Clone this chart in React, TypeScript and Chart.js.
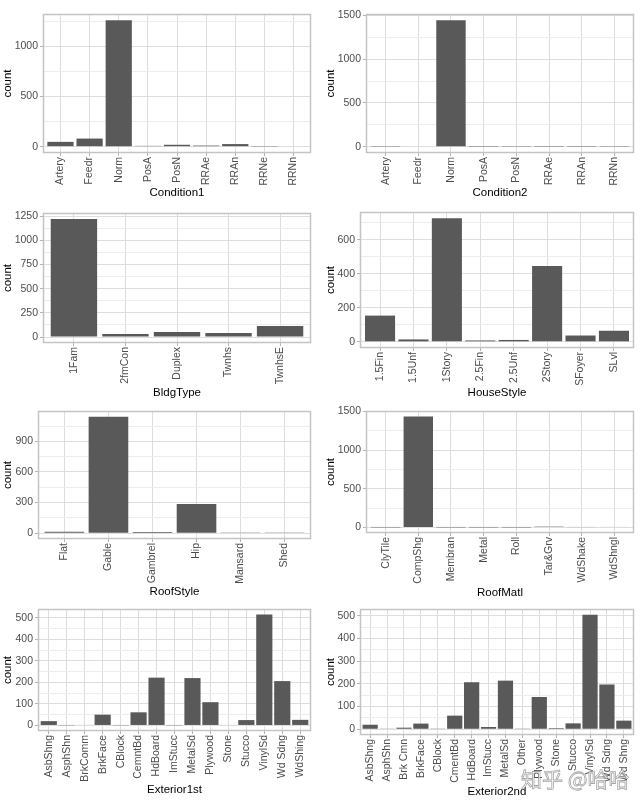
import React, { useEffect, useRef } from "react";
import { Chart, registerables } from "chart.js";

Chart.register(...registerables);
Chart.defaults.font.family = "'Liberation Sans', Arial, sans-serif";

// ---------- data ----------
const condition1Labels = ["Artery", "Feedr", "Norm", "PosA", "PosN", "RRAe", "RRAn", "RRNe", "RRNn"];
const condition1Counts = [48, 81, 1260, 8, 19, 11, 26, 2, 5];

const condition2Labels = ["Artery", "Feedr", "Norm", "PosA", "PosN", "RRAe", "RRAn", "RRNn"];
const condition2Counts = [2, 6, 1445, 1, 2, 1, 1, 2];

const bldgTypeLabels = ["1Fam", "2fmCon", "Duplex", "Twnhs", "TwnhsE"];
const bldgTypeCounts = [1220, 31, 52, 43, 114];

const houseStyleLabels = ["1.5Fin", "1.5Unf", "1Story", "2.5Fin", "2.5Unf", "2Story", "SFoyer", "SLvl"];
const houseStyleCounts = [154, 14, 726, 8, 11, 445, 37, 65];

const roofStyleLabels = ["Flat", "Gable", "Gambrel", "Hip", "Mansard", "Shed"];
const roofStyleCounts = [13, 1141, 11, 286, 7, 2];

const roofMatlLabels = ["ClyTile", "CompShg", "Membran", "Metal", "Roll", "Tar&Grv", "WdShake", "WdShngl"];
const roofMatlCounts = [1, 1434, 1, 1, 1, 11, 5, 6];

const exterior1stLabels = ["AsbShng", "AsphShn", "BrkComm", "BrkFace", "CBlock", "CemntBd", "HdBoard", "ImStucc", "MetalSd", "Plywood", "Stone", "Stucco", "VinylSd", "Wd Sdng", "WdShing"];
const exterior1stCounts = [20, 1, 2, 50, 1, 61, 222, 1, 220, 108, 2, 25, 515, 206, 26];

const exterior2ndLabels = ["AsbShng", "AsphShn", "Brk Cmn", "BrkFace", "CBlock", "CmentBd", "HdBoard", "ImStucc", "MetalSd", "Other", "Plywood", "Stone", "Stucco", "VinylSd", "Wd Sdng", "Wd Shng"];
const exterior2ndCounts = [20, 3, 7, 25, 1, 60, 207, 10, 214, 1, 142, 5, 26, 504, 197, 38];

// major tick steps per panel
const condition1Step = 500;
const condition2Step = 500;
const bldgTypeStep = 250;
const houseStyleStep = 200;
const roofStyleStep = 300;
const roofMatlStep = 500;
const exterior1stStep = 100;
const exterior2ndStep = 100;

const watermarkText = "知乎 @哈哈";

// ---------- styles ----------
const BAR = "#595959";
const GRID_MAJOR = "#dedede";
const GRID_MINOR = "#ededed";
const AXIS_GREY = "#b3b3b3";
const BORDER_GREY = "#c4c4c4";
const TICK_TEXT = "#4d4d4d";
const TICK_FONT = { family: "'Liberation Sans', Arial, sans-serif", size: 10.5 };
const TITLE_FONT = { family: "'Liberation Sans', Arial, sans-serif", size: 11.5 };

type PanelCfg = {
  labels: string[];
  values: number[];
  title: string;
  step: number;
  box: [number, number, number, number]; // canvas x, y, w, h
  plot: [number, number, number, number]; // left, top, right, bottom (absolute)
  titleY: number; // center of x title (absolute)
};

const panels: PanelCfg[] = [
  { labels: condition1Labels, values: condition1Counts, title: "Condition1", step: condition1Step, box: [0, 0, 320, 200], plot: [43, 14, 311, 153], titleY: 193 },
  { labels: condition2Labels, values: condition2Counts, title: "Condition2", step: condition2Step, box: [323, 0, 317, 200], plot: [366, 14, 634, 153], titleY: 193 },
  { labels: bldgTypeLabels, values: bldgTypeCounts, title: "BldgType", step: bldgTypeStep, box: [0, 200, 320, 200], plot: [43, 213, 311, 343], titleY: 393 },
  { labels: houseStyleLabels, values: houseStyleCounts, title: "HouseStyle", step: houseStyleStep, box: [323, 200, 317, 200], plot: [360, 212, 634, 348], titleY: 393 },
  { labels: roofStyleLabels, values: roofStyleCounts, title: "RoofStyle", step: roofStyleStep, box: [0, 400, 320, 200], plot: [38, 411, 311, 539], titleY: 592 },
  { labels: roofMatlLabels, values: roofMatlCounts, title: "RoofMatl", step: roofMatlStep, box: [323, 400, 317, 200], plot: [366, 411, 634, 533], titleY: 592.5 },
  { labels: exterior1stLabels, values: exterior1stCounts, title: "Exterior1st", step: exterior1stStep, box: [0, 600, 320, 202], plot: [38, 609, 311, 731], titleY: 790 },
  { labels: exterior2ndLabels, values: exterior2ndCounts, title: "Exterior2nd", step: exterior2ndStep, box: [323, 600, 317, 202], plot: [360, 609, 634, 735], titleY: 791.5 },
];

const borderPlugin = {
  id: "panelBorder",
  afterDraw(chart: any) {
    const { ctx, chartArea } = chart;
    const { left, top, right, bottom } = chartArea;
    ctx.save();
    ctx.strokeStyle = BORDER_GREY;
    ctx.lineWidth = 1.5;
    ctx.strokeRect(Math.round(left) + 0.5, Math.round(top) + 0.5, Math.round(right - left) - 1, Math.round(bottom - top) - 1);
    ctx.restore();
  },
};

function Panel({ cfg }: { cfg: PanelCfg }) {
  const ref = useRef<HTMLCanvasElement>(null);
  useEffect(() => {
    const [cx, cy, cw, ch] = cfg.box;
    const [pl, pt, pr, pb] = cfg.plot;
    const maxV = Math.max(...cfg.values);
    const yMin = -0.05 * maxV;
    const yMax = 1.05 * maxV;
    const minor = cfg.step / 2;
    const yTicks: number[] = [];
    for (let v = 0; v <= yMax + 1e-9; v += minor) yTicks.push(v);
    const n = cfg.labels.length;
    const isMajor = (v: number) => Math.abs(v / cfg.step - Math.round(v / cfg.step)) < 1e-6;
    const titleHalf = (TITLE_FONT.size * 1.2) / 2;

    const chart = new Chart(ref.current as HTMLCanvasElement, {
      type: "bar",
      data: {
        datasets: [
          {
            data: cfg.values.map((v, i) => ({ x: i, y: v })),
            backgroundColor: BAR,
            borderWidth: 0,
            inflateAmount: 0,
            categoryPercentage: 0.9,
            barPercentage: 1,
          } as any,
        ],
      },
      options: {
        responsive: false,
        animation: false,
        events: [],
        layout: { padding: { left: 0, top: pt - cy, right: cx + cw - pr, bottom: 0 } },
        plugins: { legend: { display: false }, tooltip: { enabled: false } },
        scales: {
          x: {
            type: "linear",
            min: -0.6,
            max: n - 0.4,
            offset: false,
            afterBuildTicks: (s: any) => {
              s.ticks = cfg.labels.map((_, i) => ({ value: i }));
            },
            afterFit: (s: any) => {
              s.height = cy + ch - pb;
            },
            ticks: {
              autoSkip: false,
              minRotation: 90,
              maxRotation: 90,
              padding: 1,
              color: TICK_TEXT,
              font: TICK_FONT,
              callback: (v: any) => cfg.labels[Math.round(Number(v))],
            },
            grid: { offset: false, color: GRID_MAJOR, lineWidth: 1, tickLength: 3, tickColor: AXIS_GREY, drawTicks: true },
            border: { display: false },
            title: {
              display: true,
              text: cfg.title,
              color: "#000",
              font: TITLE_FONT,
              padding: { top: 0, bottom: Math.max(0, cy + ch - cfg.titleY - titleHalf) },
            },
          },
          y: {
            type: "linear",
            min: yMin,
            max: yMax,
            afterBuildTicks: (s: any) => {
              s.ticks = yTicks.map((v) => ({ value: v }));
            },
            afterFit: (s: any) => {
              s.width = pl - cx;
            },
            ticks: {
              autoSkip: false,
              padding: 2,
              color: TICK_TEXT,
              font: TICK_FONT,
              callback: (v: any) => (isMajor(Number(v)) ? String(Math.round(Number(v))) : ""),
            },
            grid: {
              color: (c: any) => (c.tick && isMajor(c.tick.value) ? GRID_MAJOR : GRID_MINOR),
              tickColor: (c: any) => (c.tick && isMajor(c.tick.value) ? AXIS_GREY : "rgba(0,0,0,0)"),
              lineWidth: 1,
              tickLength: 3,
              drawTicks: true,
            },
            border: { display: false },
            title: {
              display: true,
              text: "count",
              color: "#000",
              font: TITLE_FONT,
              padding: { top: 1, bottom: 0 },
            },
          },
        },
      } as any,
      plugins: [borderPlugin],
    });
    return () => chart.destroy();
  }, [cfg]);

  const [cx, cy, cw, ch] = cfg.box;
  return (
    <canvas
      ref={ref}
      width={cw}
      height={ch}
      style={{ position: "absolute", left: cx, top: cy, width: cw, height: ch }}
    />
  );
}

export default function App() {
  return (
    <div style={{ position: "absolute", left: 0, top: 0, width: 640, height: 802, background: "#fff", overflow: "hidden" }}>
      {panels.map((p) => (
        <Panel key={p.title} cfg={p} />
      ))}
      <div
        style={{
          position: "absolute",
          left: 521,
          top: 764,
          fontFamily: "'Noto Sans CJK SC', sans-serif",
          fontSize: 21,
          lineHeight: "28px",
          whiteSpace: "nowrap",
          color: "rgba(255,255,255,0.85)",
          WebkitTextStroke: "0.8px rgba(130,130,130,0.7)",
          pointerEvents: "none",
        }}
      >
        {watermarkText}
      </div>
    </div>
  );
}
